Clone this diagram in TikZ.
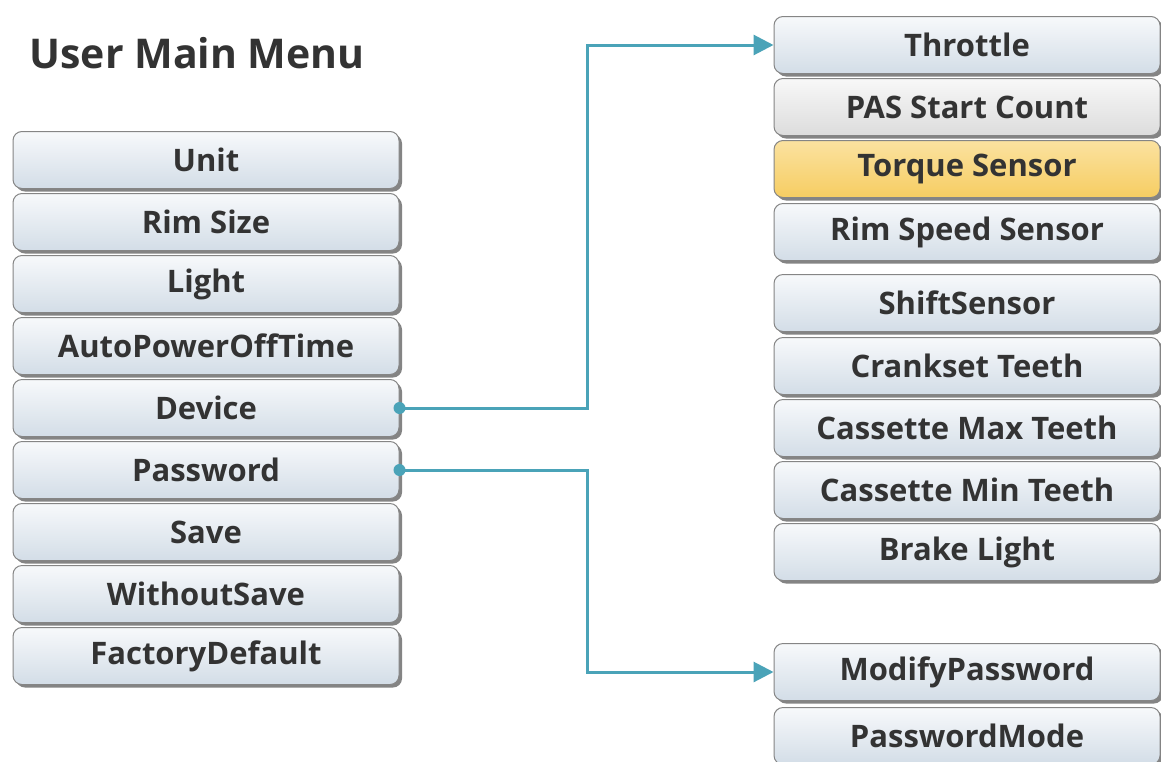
\documentclass[tikz,border=0pt]{standalone}
\usepackage{fontspec}
\setmainfont{Open Sans}
\usetikzlibrary{shadows,arrows.meta}
\definecolor{txt}{HTML}{333333}
\definecolor{conn}{HTML}{4AA3B8}
\definecolor{edge}{HTML}{858585}
\definecolor{boxtop}{HTML}{F7F9FB}
\definecolor{boxbot}{HTML}{D3DDE7}
\definecolor{greytop}{HTML}{F8F8F8}
\definecolor{greybot}{HTML}{DCDCDC}
\definecolor{ortop}{HTML}{FBE2A0}
\definecolor{orbot}{HTML}{F6CD62}
\tikzset{
  menubox/.style={draw=edge, line width=1pt, rounded corners=9pt,
    minimum width=386pt, minimum height=57pt, inner sep=0pt,
    top color=boxtop, bottom color=boxbot,
    drop shadow={shadow xshift=3pt, shadow yshift=-3pt, fill=black!60, opacity=0.8},
    font=\fontsize{31}{36}\selectfont\bfseries, text=txt},
  greybox/.style={menubox, top color=greytop, bottom color=greybot},
  hilite/.style={menubox, top color=ortop, bottom color=orbot},
  link/.style={draw=conn, line width=3pt},
  dot/.style={fill=conn}
}
\begin{document}
\begin{tikzpicture}[x=1pt,y=-1pt]
\useasboundingbox[fill=white] (0,0) rectangle (1161,761);
\node[anchor=base west, font=\fontsize{41}{48}\selectfont\bfseries, text=txt] (title) at (26,68) {User Main Menu};
% left column
\node[menubox] (unit) at (206,160) {Unit};
\node[menubox] (rim)  at (206,222) {Rim Size};
\node[menubox] (light) at (206,284) {Light};
\node[menubox] (apo) at (206,346) {AutoPowerOffTime};
\node[menubox] (dev) at (206,408) {Device};
\node[menubox] (pwd) at (206,470) {Password};
\node[menubox] (save) at (206,532) {Save};
\node[menubox] (wsave) at (206,594) {WithoutSave};
\node[menubox] (fdef) at (206,656) {FactoryDefault};
% right column
\node[menubox] (thr) at (967,45) {Throttle};
\node[greybox] (pas) at (967,107) {PAS Start Count};
\node[hilite] (torq) at (967,169) {Torque Sensor};
\node[menubox] (rss) at (967,232) {Rim Speed Sensor};
\node[menubox] (shift) at (967,303) {ShiftSensor};
\node[menubox] (crank) at (967,366) {Crankset Teeth};
\node[menubox] (cmax) at (967,428) {Cassette Max Teeth};
\node[menubox] (cmin) at (967,490) {Cassette Min Teeth};
\node[menubox] (brake) at (967,552) {Brake Light};
\node[menubox] (mod) at (967,672) {ModifyPassword};
\node[menubox] (pmode) at (967,736) {PasswordMode};
% connectors
\draw[link, -{Triangle[length=20pt,width=20pt]}] (dev.east) -- ++(188,0) |- (thr.west);
\draw[link, -{Triangle[length=20pt,width=20pt]}] (pwd.east) -- ++(188,0) |- (mod.west);
\fill[dot] (dev.east) circle (6pt);
\fill[dot] (pwd.east) circle (6pt);
\end{tikzpicture}
\end{document}
